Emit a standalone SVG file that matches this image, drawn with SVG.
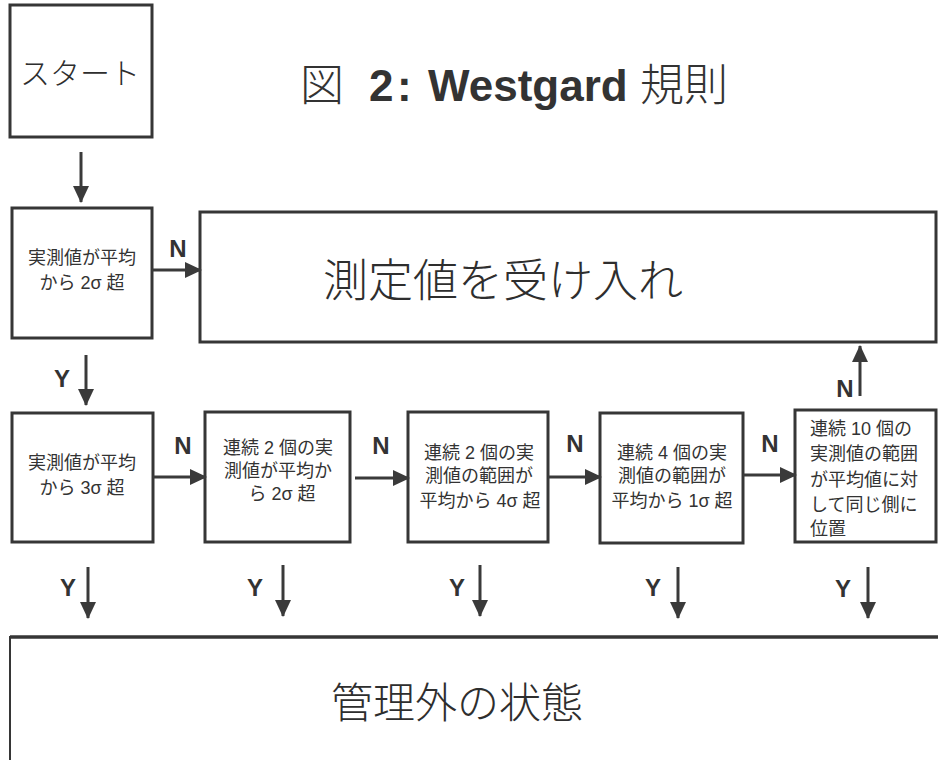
<svg xmlns="http://www.w3.org/2000/svg" width="938" height="760" viewBox="0 0 938 760">
<style>
.box{fill:#fff;stroke:#363636;stroke-width:3}
.t{font-family:"Liberation Sans","Noto Sans CJK JP",sans-serif;font-size:18px;fill:#333}
.c{text-anchor:middle}
.big{font-family:"Noto Sans CJK JP",sans-serif;font-weight:300;fill:#2e2e2e}
.lbl{font-family:"Liberation Sans",Arial,sans-serif;font-weight:bold;font-size:24px;fill:#333;text-anchor:middle}
.ar{stroke:#3a3a3a;stroke-width:3;fill:none;marker-end:url(#ah)}
</style>
<defs>
<marker id="ah" markerUnits="userSpaceOnUse" markerWidth="18" markerHeight="16" refX="16" refY="8" orient="auto">
<path d="M0,0 L17,8 L0,16 Z" fill="#3a3a3a"/>
</marker>
</defs>
<rect width="938" height="760" fill="#fff"/>

<g id="title">
<text x="300" y="101" font-size="44" fill="#333"><tspan font-family="Noto Sans CJK JP, sans-serif" font-weight="300">図</tspan><tspan x="369" font-family="Liberation Sans, Arial, sans-serif" font-weight="bold">2</tspan><tspan x="397" font-family="Liberation Sans, Arial, sans-serif" font-weight="bold">:</tspan><tspan x="428" font-family="Liberation Sans, Arial, sans-serif" font-weight="bold">Westgard</tspan><tspan x="640" font-family="Noto Sans CJK JP, sans-serif" font-weight="300">規則</tspan></text>
</g>

<g id="start">
<rect class="box" x="10" y="5" width="142" height="132"/>
<text class="big c" x="80" y="84" font-size="30">スタート</text>
</g>

<g id="rule1">
<rect class="box" x="12" y="208" width="140" height="130"/>
<text class="t c" x="82" y="264">実測値が平均</text>
<text class="t c" x="82" y="289">から 2σ 超</text>
</g>

<g id="accept">
<rect class="box" x="200" y="212" width="736" height="130"/>
<text class="big c" x="503" y="297" font-size="45">測定値を受け入れ</text>
</g>

<g id="rule2">
<rect class="box" x="12" y="413" width="141" height="129"/>
<text class="t c" x="82" y="469">実測値が平均</text>
<text class="t c" x="82" y="494">から 3σ 超</text>
</g>

<g id="rule3">
<rect class="box" x="205" y="412" width="145" height="130"/>
<text class="t c" x="278" y="454">連続 2 個の実</text>
<text class="t c" x="278" y="477">測値が平均か</text>
<text class="t c" x="282" y="500">ら 2σ 超</text>
</g>

<g id="rule4">
<rect class="box" x="408" y="412" width="140" height="130"/>
<text class="t c" x="479" y="459">連続 2 個の実</text>
<text class="t c" x="479" y="482">測値の範囲が</text>
<text class="t c" x="480" y="507">平均から 4σ 超</text>
</g>

<g id="rule5">
<rect class="box" x="600" y="413" width="143" height="130"/>
<text class="t c" x="672" y="459">連続 4 個の実</text>
<text class="t c" x="672" y="482">測値の範囲が</text>
<text class="t c" x="672" y="507">平均から 1σ 超</text>
</g>

<g id="rule6">
<rect class="box" x="795" y="410" width="141" height="132"/>
<text class="t" x="810" y="435">連続 10 個の</text>
<text class="t" x="810" y="460">実測値の範囲</text>
<text class="t" x="810" y="486">が平均値に対</text>
<text class="t" x="810" y="511">して同じ側に</text>
<text class="t" x="810" y="535">位置</text>
</g>

<g id="outofcontrol">
<path d="M10,637 H938" stroke="#363636" stroke-width="3.5" fill="none"/>
<path d="M10,636 V760" stroke="#363636" stroke-width="2" fill="none"/>
<text class="big c" x="457" y="718" font-size="42">管理外の状態</text>
</g>

<g id="connectors">
<path class="ar" d="M81,152 V202"/>
<path class="ar" d="M152,270 H201"/>
<path class="ar" d="M86,355 V405"/>
<path class="ar" d="M153,477 H206"/>
<path class="ar" d="M355,478 H409"/>
<path class="ar" d="M548,477 H601"/>
<path class="ar" d="M743,475 H796"/>
<path class="ar" d="M860,396 V346"/>
<path class="ar" d="M88,567 V618"/>
<path class="ar" d="M283,565 V616"/>
<path class="ar" d="M480,565 V616"/>
<path class="ar" d="M678,567 V618"/>
<path class="ar" d="M868,567 V618"/>
<text class="lbl" x="178" y="257">N</text>
<text class="lbl" x="62" y="387">Y</text>
<text class="lbl" x="183" y="454">N</text>
<text class="lbl" x="381" y="454">N</text>
<text class="lbl" x="575" y="452">N</text>
<text class="lbl" x="770" y="452">N</text>
<text class="lbl" x="845" y="397">N</text>
<text class="lbl" x="68" y="596">Y</text>
<text class="lbl" x="255" y="596">Y</text>
<text class="lbl" x="457" y="596">Y</text>
<text class="lbl" x="653" y="596">Y</text>
<text class="lbl" x="843" y="597">Y</text>
</g>
</svg>
